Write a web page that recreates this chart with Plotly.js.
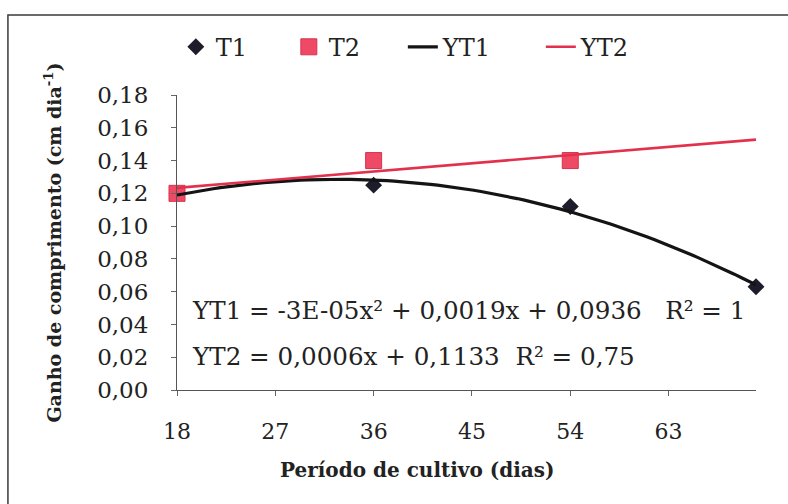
<!DOCTYPE html>
<html>
<head>
<meta charset="utf-8">
<script src="https://cdn.plot.ly/plotly-3.0.1.min.js"></script>
<style>
  html, body { margin: 0; padding: 0; background: #fff; }
  #chart { width: 788px; height: 504px; }
</style>
</head>
<body>
<div id="chart"></div>
<script>
// Growth in length per cultivation period, treatments T1 and T2
const days = [18, 36, 54, 71];
const t1 = [0.120, 0.125, 0.112, 0.063];
const t2Days = [18, 36, 54];
const t2 = [0.120, 0.140, 0.140];

const xTicks = [18, 27, 36, 45, 54, 63];
const yTicks = [0, 0.02, 0.04, 0.06, 0.08, 0.10, 0.12, 0.14, 0.16, 0.18];

const eqYT1 = 'YT1 = -3E-05x² + 0,0019x + 0,0936\u00a0\u00a0\u00a0R² = 1';
const eqYT2 = 'YT2 = 0,0006x + 0,1133\u00a0\u00a0R² = 0,75';

// least-squares polynomial trendlines (degree 1 or 2)
function polyfit(xs, ys, deg) {
  const n = deg + 1;
  const A = [];
  for (let r = 0; r < n; r++) {
    A.push([]);
    for (let c = 0; c < n; c++) {
      A[r].push(xs.reduce((s, x) => s + Math.pow(x, r + c), 0));
    }
    A[r].push(xs.reduce((s, x, i) => s + Math.pow(x, r) * ys[i], 0));
  }
  for (let i = 0; i < n; i++) {
    let p = i;
    for (let k = i + 1; k < n; k++) if (Math.abs(A[k][i]) > Math.abs(A[p][i])) p = k;
    [A[i], A[p]] = [A[p], A[i]];
    for (let k = 0; k < n; k++) {
      if (k === i) continue;
      const f = A[k][i] / A[i][i];
      for (let c = i; c <= n; c++) A[k][c] -= f * A[i][c];
    }
  }
  return A.map((row, i) => row[n] / row[i]);
}
function trend(coef, x0, x1, steps) {
  const xs = [], ys = [];
  for (let i = 0; i <= steps; i++) {
    const x = x0 + (x1 - x0) * i / steps;
    xs.push(x);
    ys.push(coef.reduce((s, c, k) => s + c * Math.pow(x, k), 0));
  }
  return { x: xs, y: ys };
}

const xMin = Math.min(...days), xMax = Math.max(...days);
const fit1 = trend(polyfit(days, t1, 2), xMin, xMax, 80);
const fit2 = trend(polyfit(t2Days, t2, 1), xMin, xMax, 2);

const serif = 'DejaVu Serif, Liberation Serif, serif';

const traces = [
  {
    name: 'T1', x: days, y: t1, type: 'scatter', mode: 'markers', cliponaxis: false,
    marker: { symbol: 'diamond', size: 13, color: '#1c1c2a' },
    legendwidth: 68
  },
  {
    name: 'T2', x: t2Days, y: t2, type: 'scatter', mode: 'markers', cliponaxis: false,
    marker: { symbol: 'square', size: 16, color: '#ee4a66', line: { color: '#d8324f', width: 1 } },
    legendwidth: 69
  },
  {
    name: 'YT1', x: fit1.x, y: fit1.y, type: 'scatter', mode: 'lines',
    line: { color: '#141414', width: 3.2 },
    legendwidth: 93
  },
  {
    name: 'YT2', x: fit2.x, y: fit2.y, type: 'scatter', mode: 'lines',
    line: { color: '#e3304c', width: 2.6 }
  }
];

const axisCommon = {
  showgrid: false, zeroline: false,
  showline: true, linecolor: '#555', linewidth: 1,
  ticks: 'outside', ticklen: 5, tickcolor: '#666', tickwidth: 1,
  tickfont: { family: serif, size: 22, color: '#222' }
};

const layout = {
  width: 788, height: 504,
  margin: { l: 177, r: 32, t: 95, b: 114 },
  paper_bgcolor: '#fff', plot_bgcolor: '#fff',
  separators: ',.',
  showlegend: true,
  legend: {
    orientation: 'h', x: -0.002, xanchor: 'left', y: 1.162, yanchor: 'middle',
    font: { family: serif, size: 24, color: '#222' },
    bgcolor: 'rgba(0,0,0,0)'
  },
  xaxis: Object.assign({}, axisCommon, {
    range: [xMin, xMax], tickmode: 'array', tickvals: xTicks,
    ticklabelstandoff: 17
  }),
  yaxis: Object.assign({}, axisCommon, {
    range: [0, 0.18], tickmode: 'array', tickvals: yTicks, tickformat: '.2f',
    ticklabelstandoff: 18,
    tickfont: { family: serif, size: 23, color: '#222' },
    title: {
      text: 'Ganho de comprimento (cm dia<sup>-1</sup>)',
      font: { family: serif, size: 19, color: '#222', weight: 'bold' },
      standoff: 30
    }
  }),
  annotations: [
    {
      text: 'Período de cultivo (dias)', xref: 'paper', yref: 'paper',
      x: 0.4145, y: -0.271, xanchor: 'center', yanchor: 'middle', showarrow: false,
      font: { family: serif, size: 20, color: '#222', weight: 'bold' }
    },
    {
      text: eqYT1, xref: 'paper', yref: 'paper',
      x: 0.022, y: 0.271, xanchor: 'left', yanchor: 'middle', showarrow: false,
      font: { family: serif, size: 24.6, color: '#222' }
    },
    {
      text: eqYT2, xref: 'paper', yref: 'paper',
      x: 0.022, y: 0.112, xanchor: 'left', yanchor: 'middle', showarrow: false,
      font: { family: serif, size: 24.6, color: '#222' }
    }
  ],
  shapes: [
    {
      type: 'path', xref: 'paper', yref: 'paper',
      path: 'M -0.292,-0.5 L -0.292,1.271 L 1.1,1.271',
      line: { color: '#3a3a3a', width: 1.5 }
    }
  ]
};

Plotly.newPlot('chart', traces, layout, { displayModeBar: false, staticPlot: true });
</script>
</body>
</html>
